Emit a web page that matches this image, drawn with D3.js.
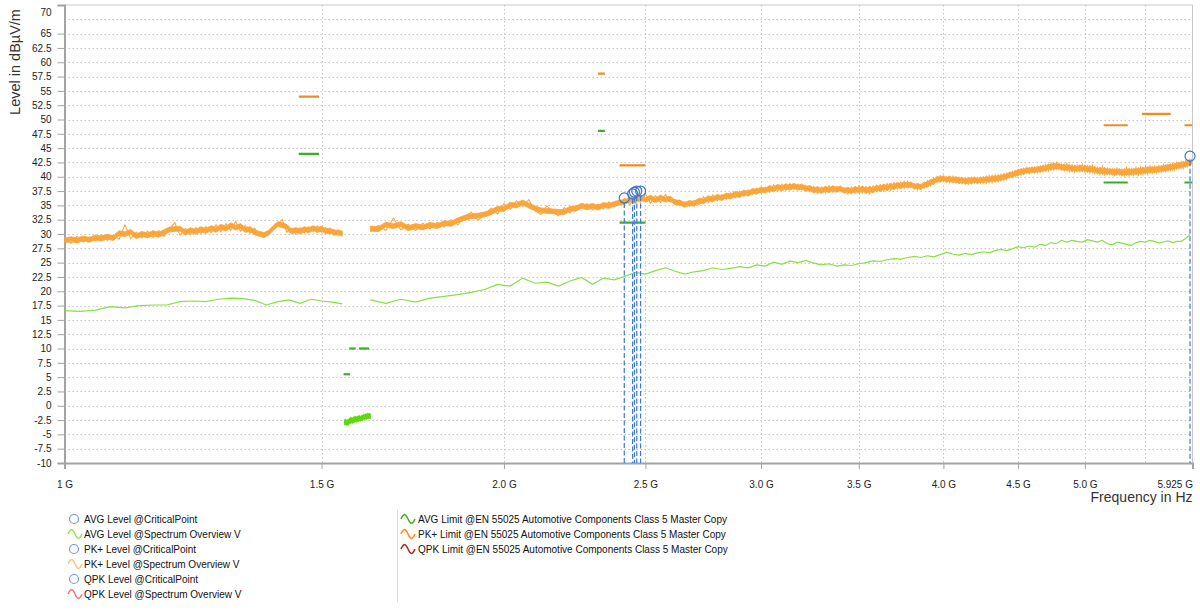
<!DOCTYPE html>
<html>
<head>
<meta charset="utf-8">
<script src="https://cdn.jsdelivr.net/npm/d3@7/dist/d3.min.js"></script>
<style>
  body { margin: 0; background: #fff; }
  svg { display: block; }
  text { font-family: "Liberation Sans", Arial, sans-serif; }
</style>
</head>
<body>
<svg id="chart" width="1200" height="611"></svg>
<script>
// ---------- DATA (frequencies in GHz, levels in dBµV/m) ----------
// PK+ spectrum overview, segment 1 (start 1.00 GHz, step 0.01 GHz)
const pkSeg1Start = 1.00, pkSeg1Step = 0.01;
const pkSeg1 = [29.3,28.4,29.6,28.6,29.5,28.8,29.9,28.9,29.8,29.1,
  31.6,29.2,30.3,29.3,30.5,29.4,30.6,29.6,30.8,32.0,
  29.8,31.0,29.9,31.1,30.1,31.3,30.2,31.6,30.4,31.8,
  30.6,32.2,30.5,31.5,30.1,31.0,29.7,29.4,30.4,30.9,
  31.8,32.5,30.3,31.0,30.0,31.1,30.2,31.3,30.4,31.4,
  30.3,31.1,30.0,30.8,29.8,30.3];
// PK+ spectrum overview, segment 2 (start 1.62 GHz, step 0.02 GHz)
const pkSeg2Start = 1.62, pkSeg2Step = 0.02;
const pkSeg2 = [30.4,31.5,30.6,32.8,30.7,31.7,30.6,31.9,30.9,32.0,
  31.2,32.5,31.6,33.1,33.8,32.4,33.4,34.5,33.5,35.3,
  34.3,35.8,34.8,36.0,34.1,33.4,34.9,33.8,33.2,34.6,
  33.7,35.0,34.5,35.3,34.2,35.2,34.4,35.6,34.7,35.5,
  36.2,35.1,36.7,35.5,37.0,35.4,36.7,35.5,36.9,35.6,
  36.0,34.9,35.6,34.8,35.9,35.1,36.5,35.5,36.8,35.8,
  36.9,36.1,37.2,36.3,37.5,36.6,37.7,36.9,38.0,37.2,
  38.2,37.3,38.6,37.5,38.7,37.6,38.8,37.8,38.7,37.7,
  38.5,37.4,38.3,37.1,38.2,37.2,38.4,37.3,38.3,37.5,
  38.1,37.0,38.2,37.1,38.4,37.2,38.3,37.0,38.4,37.4,
  38.6,37.5,38.8,37.6,39.0,37.8,39.1,38.0,39.2,38.1,
  38.8,37.8,38.7,38.0,39.3,38.4,39.8,39.0,40.2,39.2,
  40.0,39.0,40.1,38.9,39.9,38.8,39.8,38.7,39.9,38.9,
  39.8,38.9,40.0,38.9,40.2,39.0,40.3,39.1,40.4,39.4,
  40.6,39.8,40.9,40.0,41.3,40.3,41.5,40.6,41.6,40.7,
  41.7,40.7,41.9,40.9,42.1,41.0,42.4,41.2,42.5,41.3,
  42.2,41.0,42.3,40.9,42.1,40.8,42.0,40.9,42.2,40.8,
  41.9,40.7,42.0,40.6,41.6,40.4,41.8,40.3,41.5,40.4,
  41.4,40.2,41.5,40.3,41.3,40.1,41.6,40.2,41.4,40.3,
  41.6,40.3,41.7,40.4,41.8,40.5,41.9,40.6,41.8,40.7,
  41.9,40.8,42.1,40.9,42.2,41.1,42.3,41.2,42.5,41.4,
  42.6,41.5,42.8,41.8,43.0,42.4];
// AVG spectrum overview, segment 1 (start 1.00 GHz, step 0.025 GHz)
const avgSeg1Start = 1.00, avgSeg1Step = 0.025;
const avgSeg1 = [16.6,16.5,16.7,17.3,17.1,17.5,17.6,17.6,18.2,18.3,
  18.2,18.6,18.8,18.7,18.4,17.6,18.2,18.5,17.9,18.6,18.3,18.1,17.8];
// AVG spectrum overview, segment 2 (start 1.62 GHz, step 0.04 GHz)
const avgSeg2Start = 1.62, avgSeg2Step = 0.04;
const avgSeg2 = [18.5,17.9,18.6,18.1,18.8,19.1,19.4,19.8,20.3,21.2,
  20.9,22.3,21.4,21.6,20.9,21.8,22.4,21.2,22.3,22.0,
  22.6,23.3,23.0,23.6,24.1,23.5,23.0,23.4,23.6,24.1,
  23.8,24.0,24.3,24.1,24.6,24.4,25.1,24.7,25.3,25.0,
  25.4,24.9,24.6,24.8,24.4,24.6,24.5,24.8,25.0,25.3,
  25.2,25.5,25.7,25.6,25.9,26.1,25.9,26.2,26.0,26.4,
  26.8,26.5,26.3,26.6,26.4,26.7,26.9,26.7,27.1,27.3,
  27.1,27.4,27.8,27.6,27.9,27.7,28.2,28.0,28.5,28.3,
  28.9,28.6,28.9,28.7,28.6,29.0,28.8,28.6,28.9,28.3,
  28.1,28.6,28.4,28.2,28.0,28.5,28.7,28.6,28.9,28.7,
  28.4,28.6,28.8,28.5,28.7,28.7,29.2,29.8];
// AVG level inside the GNSS bands (start 1.555 GHz, step 0.0025 GHz)
const avgGnssStart = 1.555, avgGnssStep = 0.0025;
const avgGnss = [-2.7,-3.1,-2.5,-3.4,-2.6,-2.9,-2.3,-2.8,-2.4,-2.7,
  -2.1,-2.6,-2.2,-2.5,-2.0,-2.4,-2.1,-2.3,-1.9,-2.2,
  -1.8,-2.1,-1.7,-2.0,-1.6,-1.9,-1.8];

// Limit lines: [start GHz, stop GHz, level]
const pkLimitStart = [1.447, 2.320, 2.400, 5.150, 5.470, 5.850];
const pkLimitStop  = [1.494, 2.345, 2.500, 5.350, 5.725, 5.925];
const pkLimitLevel = [54, 58, 42, 49, 51, 49];
const avgLimitStart = [1.447, 1.553, 1.567, 1.591, 2.320, 2.400, 5.150, 5.850];
const avgLimitStop  = [1.494, 1.569, 1.583, 1.617, 2.345, 2.500, 5.350, 5.925];
const avgLimitLevel = [44, 5.5, 10, 10, 48, 32, 39, 39];

// Critical points
const critFreq  = [2.418, 2.450, 2.457, 2.466, 2.481, 5.902];
const critLevel = [36.3, 37.0, 37.3, 37.5, 37.5, 43.6];

// Axis ticks
const yTickValues = [70,65,62.5,60,57.5,55,52.5,50,47.5,45,42.5,40,37.5,35,32.5,30,27.5,25,22.5,20,17.5,15,12.5,10,7.5,5,2.5,0,-2.5,-5,-7.5,-10];
const yGridValues = [67.5,65,62.5,60,57.5,55,52.5,50,47.5,45,42.5,40,37.5,35,32.5,30,27.5,25,22.5,20,17.5,15,12.5,10,7.5,5,2.5,0,-2.5,-5,-7.5];
const xTickValues = [1, 1.5, 2.0, 2.5, 3.0, 3.5, 4.0, 4.5, 5.0, 5.925];
const xTickLabels = ["1 G","1.5 G","2.0 G","2.5 G","3.0 G","3.5 G","4.0 G","4.5 G","5.0 G","5.925 G"];
const xGridValues = [1.5, 2.0, 2.5, 3.0, 3.5, 4.0, 4.5, 5.0, 5.5];

const legendLeft = ["AVG Level @CriticalPoint","AVG Level @Spectrum Overview V","PK+ Level @CriticalPoint","PK+ Level @Spectrum Overview V","QPK Level @CriticalPoint","QPK Level @Spectrum Overview V"];
const legendLeftType = ["circle","wave","circle","wave","circle","wave"];
const legendLeftColor = ["#6f9be3","#96e35a","#6f9be3","#ffc47e","#6f9be3","#ff6e6e"];
const legendRight = ["AVG Limit @EN 55025 Automotive Components Class 5 Master Copy","PK+ Limit @EN 55025 Automotive Components Class 5 Master Copy","QPK Limit @EN 55025 Automotive Components Class 5 Master Copy"];
const legendRightColor = ["#3cb224","#ff8c10","#b82424"];

// ---------- DRAWING ----------
const svg = d3.select("#chart");
const L = 64.5, R = 1192.5, T = 5, B = 463;
const x = d3.scaleLog().domain([1, 5.925]).range([L, R]);
const y = d3.scaleLinear().domain([-10, 70]).range([B, T]);

function series(start, step, vals) {
  return vals.map((v, i) => ({ f: +(start + i * step).toFixed(5), v }));
}
// dense core of the sweep: local mean of neighbouring samples ± half thickness (dB)
function core(pts, half) {
  return pts.map((p, i) => {
    const m = d3.mean(pts.slice(Math.max(0, i - 1), i + 2), q => q.v);
    return { f: p.f, lo: m - half, hi: m + half };
  });
}

svg.append("defs").append("clipPath").attr("id", "plotclip")
  .append("rect").attr("x", L).attr("y", T).attr("width", R - L).attr("height", B - T);

// grid
const grid = svg.append("g");
grid.selectAll("line.hg").data(yGridValues).join("line")
  .attr("x1", L).attr("x2", R).attr("y1", d => Math.round(y(d)) + 0.5).attr("y2", d => Math.round(y(d)) + 0.5)
  .attr("stroke", "#c6c6c6").attr("stroke-width", 1).attr("stroke-dasharray", "1.5,2.5");
grid.selectAll("line.vg").data(xGridValues).join("line")
  .attr("y1", T).attr("y2", B).attr("x1", d => Math.round(x(d)) + 0.5).attr("x2", d => Math.round(x(d)) + 0.5)
  .attr("stroke", "#c6c6c6").attr("stroke-width", 1).attr("stroke-dasharray", "1.5,2.5");

// frame
svg.append("line").attr("x1", L).attr("x2", R).attr("y1", T).attr("y2", T).attr("stroke", "#c8c8c8");
svg.append("line").attr("x1", R).attr("x2", R).attr("y1", T).attr("y2", B).attr("stroke", "#c8c8c8");

// axes with d3
const yAxis = d3.axisLeft(y).tickValues(yTickValues).tickSize(7).tickPadding(5)
  .tickFormat(d => String(d));
const gy = svg.append("g").attr("transform", `translate(${L},0)`).call(yAxis);
gy.select(".domain").attr("stroke", "#a3a3a3").attr("stroke-width", 2);
gy.selectAll(".tick line").attr("stroke", "#a3a3a3");
gy.selectAll(".tick text").attr("fill", "#222").style("font-size", "10px").attr("dx", "-1");
gy.selectAll(".tick").filter(d => d === 70).select("text").attr("y", 7);

const xAxis = d3.axisBottom(x).tickValues(xTickValues).tickSize(6).tickPadding(12)
  .tickFormat((d, i) => xTickLabels[i]);
const gx = svg.append("g").attr("transform", `translate(0,${B})`).call(xAxis);
gx.select(".domain").attr("stroke", "#a3a3a3").attr("stroke-width", 2);
gx.selectAll(".tick line").attr("stroke", "#a3a3a3");
gx.selectAll(".tick text").attr("fill", "#222").style("font-size", "10px");
gx.selectAll(".tick").filter(d => d === 1).select("line").remove();
gx.selectAll(".tick").filter(d => d === 5.925).select("text").attr("text-anchor", "end").attr("x", R - x(5.925));

// axis titles
svg.append("text").attr("transform", "translate(19.5,62) rotate(-90)").attr("text-anchor", "middle")
  .style("font-size", "14.5px").attr("fill", "#333").text("Level in dBµV/m");
svg.append("text").attr("x", R).attr("y", 502).attr("text-anchor", "end")
  .style("font-size", "14px").attr("fill", "#333").text("Frequency in Hz");

// plot content
const plot = svg.append("g").attr("clip-path", "url(#plotclip)");
const line = d3.line().x(d => x(d.f)).y(d => y(d.v));
const band = d3.area().x(d => x(d.f)).y0(d => y(d.lo)).y1(d => y(d.hi));

function trace(start, step, vals, color, lw, half) {
  const pts = series(start, step, vals);
  if (half > 0) {
    plot.append("path").datum(core(pts, half)).attr("d", band)
      .attr("fill", color).attr("stroke", color).attr("stroke-width", 0.8);
  }
  plot.append("path").datum(pts).attr("d", line)
    .attr("fill", "none").attr("stroke", color).attr("stroke-width", lw);
}

trace(avgSeg1Start, avgSeg1Step, avgSeg1, "#86e043", 1.2, 0);
trace(avgSeg2Start, avgSeg2Step, avgSeg2, "#86e043", 1.2, 0);
trace(avgGnssStart, avgGnssStep, avgGnss, "#5fd80c", 1.6, 0.45);
trace(pkSeg1Start, pkSeg1Step, pkSeg1, "#fba53a", 1.1, 0.42);
trace(pkSeg2Start, pkSeg2Step, pkSeg2, "#fba53a", 1.1, 0.42);

// limits
plot.selectAll("line.pklim").data(pkLimitLevel).join("line")
  .attr("x1", (d, i) => x(pkLimitStart[i])).attr("x2", (d, i) => x(pkLimitStop[i]))
  .attr("y1", d => y(d)).attr("y2", d => y(d))
  .attr("stroke", "#f28a22").attr("stroke-width", 2.2);
plot.selectAll("line.avglim").data(avgLimitLevel).join("line")
  .attr("x1", (d, i) => x(avgLimitStart[i])).attr("x2", (d, i) => x(avgLimitStop[i]))
  .attr("y1", d => y(d)).attr("y2", d => y(d))
  .attr("stroke", "#3aae2a").attr("stroke-width", 2.2);

// critical points
const cp = svg.append("g");
cp.selectAll("line").data(critLevel).join("line")
  .attr("x1", (d, i) => x(critFreq[i])).attr("x2", (d, i) => x(critFreq[i]))
  .attr("y1", d => y(d) + 5).attr("y2", B)
  .attr("stroke", "#3d7ad8").attr("stroke-width", 1.2).attr("stroke-dasharray", "5,2.5");
cp.selectAll("circle").data(critLevel).join("circle")
  .attr("cx", (d, i) => x(critFreq[i])).attr("cy", d => y(d)).attr("r", 5)
  .attr("fill", "none").attr("stroke", "#3d74d0").attr("stroke-width", 1.2);

// legend
const lg = svg.append("g");
const waveD = (x0, cy, w, a) => {
  const pts = d3.range(0, 1.0001, 0.05).map(t => [x0 + t * w, cy - a * Math.sin(2 * Math.PI * t)]);
  return d3.line().curve(d3.curveBasis)(pts);
};
legendLeft.forEach((label, i) => {
  const cy = 519 + i * 15;
  if (legendLeftType[i] === "circle") {
    lg.append("circle").attr("cx", 74).attr("cy", cy).attr("r", 4.5)
      .attr("fill", "none").attr("stroke", legendLeftColor[i]).attr("stroke-width", 1.2);
  } else {
    lg.append("path").attr("d", waveD(68, cy, 14, 4.5)).attr("fill", "none")
      .attr("stroke", legendLeftColor[i]).attr("stroke-width", 1.4);
  }
  lg.append("text").attr("x", 84).attr("y", cy + 3.7).style("font-size", "10px").attr("fill", "#111").text(label);
});
lg.append("line").attr("x1", 397.5).attr("x2", 397.5).attr("y1", 510).attr("y2", 602).attr("stroke", "#dcdcdc");
legendRight.forEach((label, i) => {
  const cy = 519 + i * 15;
  lg.append("path").attr("d", waveD(401, cy, 14, 4.5)).attr("fill", "none")
    .attr("stroke", legendRightColor[i]).attr("stroke-width", 1.5);
  lg.append("text").attr("x", 418).attr("y", cy + 3.7).style("font-size", "10px").attr("fill", "#111").text(label);
});
</script>
</body>
</html>
